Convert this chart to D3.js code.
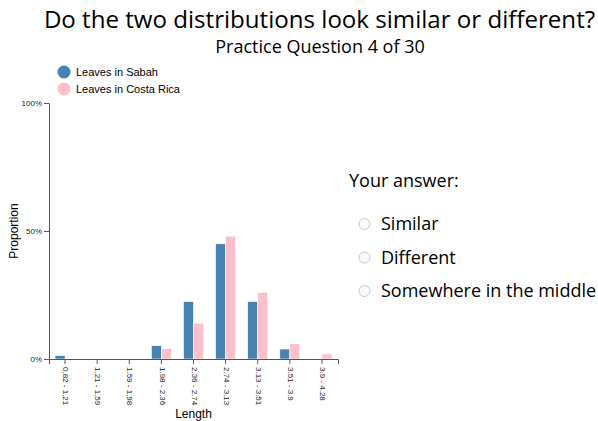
<!DOCTYPE html>
<html>
<head>
<meta charset="utf-8">
<script src="https://cdn.jsdelivr.net/npm/d3@7"></script>
<style>
  body { margin: 0; background: #fff; }
  svg { display: block; }
</style>
</head>
<body>
<svg id="chart" width="598" height="421"></svg>
<script>
const bins = ["0.82 - 1.21", "1.21 - 1.59", "1.59 - 1.98", "1.98 - 2.36", "2.36 - 2.74",
              "2.74 - 3.13", "3.13 - 3.51", "3.51 - 3.9", "3.9 - 4.28"];
const seriesNames = ["Leaves in Sabah", "Leaves in Costa Rica"];
const sabah = [0.013, 0, 0, 0.052, 0.224, 0.45, 0.224, 0.039, 0];
const costaRica = [0, 0, 0, 0.04, 0.14, 0.48, 0.26, 0.06, 0.02];
const yTicks = [0, 0.5, 1];
const answers = ["Similar", "Different", "Somewhere in the middle"];
const colors = ["#4682b4", "#ffc0cb"];

const svg = d3.select("#chart");
const margin = { top: 103, left: 49, right: 260, bottom: 62 };
const width = 598 - margin.left - margin.right;
const height = 421 - margin.top - margin.bottom;

// titles
svg.append("text")
    .attr("x", 319.5).attr("y", 28)
    .attr("text-anchor", "middle")
    .style("font-family", "Open Sans")
    .style("font-size", "24.1px")
    .text("Do the two distributions look similar or different?");
svg.append("text")
    .attr("x", 320).attr("y", 53)
    .attr("text-anchor", "middle")
    .style("font-family", "Open Sans")
    .style("font-size", "18px")
    .text("Practice Question 4 of 30");

// legend
const legend = svg.append("g").attr("transform", "translate(64,72)");
seriesNames.forEach((name, i) => {
    legend.append("circle")
        .attr("cx", 0).attr("cy", i * 17)
        .attr("r", 6.5)
        .attr("fill", colors[i]);
    legend.append("text")
        .attr("x", 12).attr("y", i * 17)
        .attr("dy", "0.35em")
        .style("font-family", "Liberation Sans, Arial, sans-serif")
        .style("font-size", "11px")
        .text(name);
});

const g = svg.append("g")
    .attr("transform", `translate(${margin.left},${margin.top})`);

const x0 = d3.scaleBand().domain(bins).range([0, width]).padding(0);
const bw = x0.bandwidth();
const x1 = d3.scaleBand().domain(seriesNames).range([bw / 2 - 10, bw / 2 + 10]);
const y = d3.scaleLinear().domain([0, 1]).range([height, 0]);

const data = bins.map((b, i) => ({ bin: b, values: [sabah[i], costaRica[i]] }));

g.selectAll(".grp")
    .data(data)
    .join("g")
    .attr("class", "grp")
    .attr("transform", d => `translate(${x0(d.bin)},0)`)
    .selectAll("rect")
    .data(d => d.values.map((v, i) => ({ name: seriesNames[i], v: v, i: i })))
    .join("rect")
    .attr("x", d => x1(d.name))
    .attr("width", x1.bandwidth())
    .attr("y", d => y(d.v))
    .attr("height", d => height - y(d.v))
    .attr("fill", d => colors[d.i])
    .attr("stroke", "#fff")
    .attr("stroke-width", 0.6);

const xAxis = g.append("g")
    .attr("transform", `translate(0,${height})`)
    .call(d3.axisBottom(x0).tickSize(5));
xAxis.selectAll("text")
    .attr("transform", "rotate(90)")
    .attr("x", 8).attr("y", -1)
    .attr("dy", "0.35em")
    .style("text-anchor", "start")
    .style("font-size", "8px");

const yAxis = g.append("g")
    .call(d3.axisLeft(y).tickValues(yTicks).tickFormat(d3.format(".0%")).tickSize(5).tickSizeOuter(0));
yAxis.selectAll("text").style("font-size", "8px").attr("x", -7);

g.selectAll(".domain, .tick line").attr("stroke", "#555");
g.selectAll(".tick text")
    .style("font-family", "Liberation Sans, Arial, sans-serif")
    .attr("fill", "#222");

svg.append("text")
    .attr("transform", `translate(18,${margin.top + height / 2}) rotate(-90)`)
    .attr("text-anchor", "middle")
    .style("font-family", "Liberation Sans, Arial, sans-serif")
    .style("font-size", "12px")
    .text("Proportion");
svg.append("text")
    .attr("x", margin.left + width / 2).attr("y", 418)
    .attr("text-anchor", "middle")
    .style("font-family", "Liberation Sans, Arial, sans-serif")
    .style("font-size", "12px")
    .text("Length");

// answer panel
svg.append("text")
    .attr("x", 349).attr("y", 187)
    .style("font-family", "Open Sans")
    .style("font-size", "18px")
    .text("Your answer:");
answers.forEach((a, i) => {
    const cy = 224 + i * 33.5;
    svg.append("circle")
        .attr("cx", 364.5).attr("cy", cy)
        .attr("r", 5.5)
        .attr("fill", "#fafafa")
        .attr("stroke", "#bbb")
        .attr("stroke-width", 0.8);
    svg.append("text")
        .attr("x", 381).attr("y", cy)
        .attr("dy", "0.35em")
        .style("font-family", "Open Sans")
        .style("font-size", "18px")
        .text(a);
});
</script>
</body>
</html>
